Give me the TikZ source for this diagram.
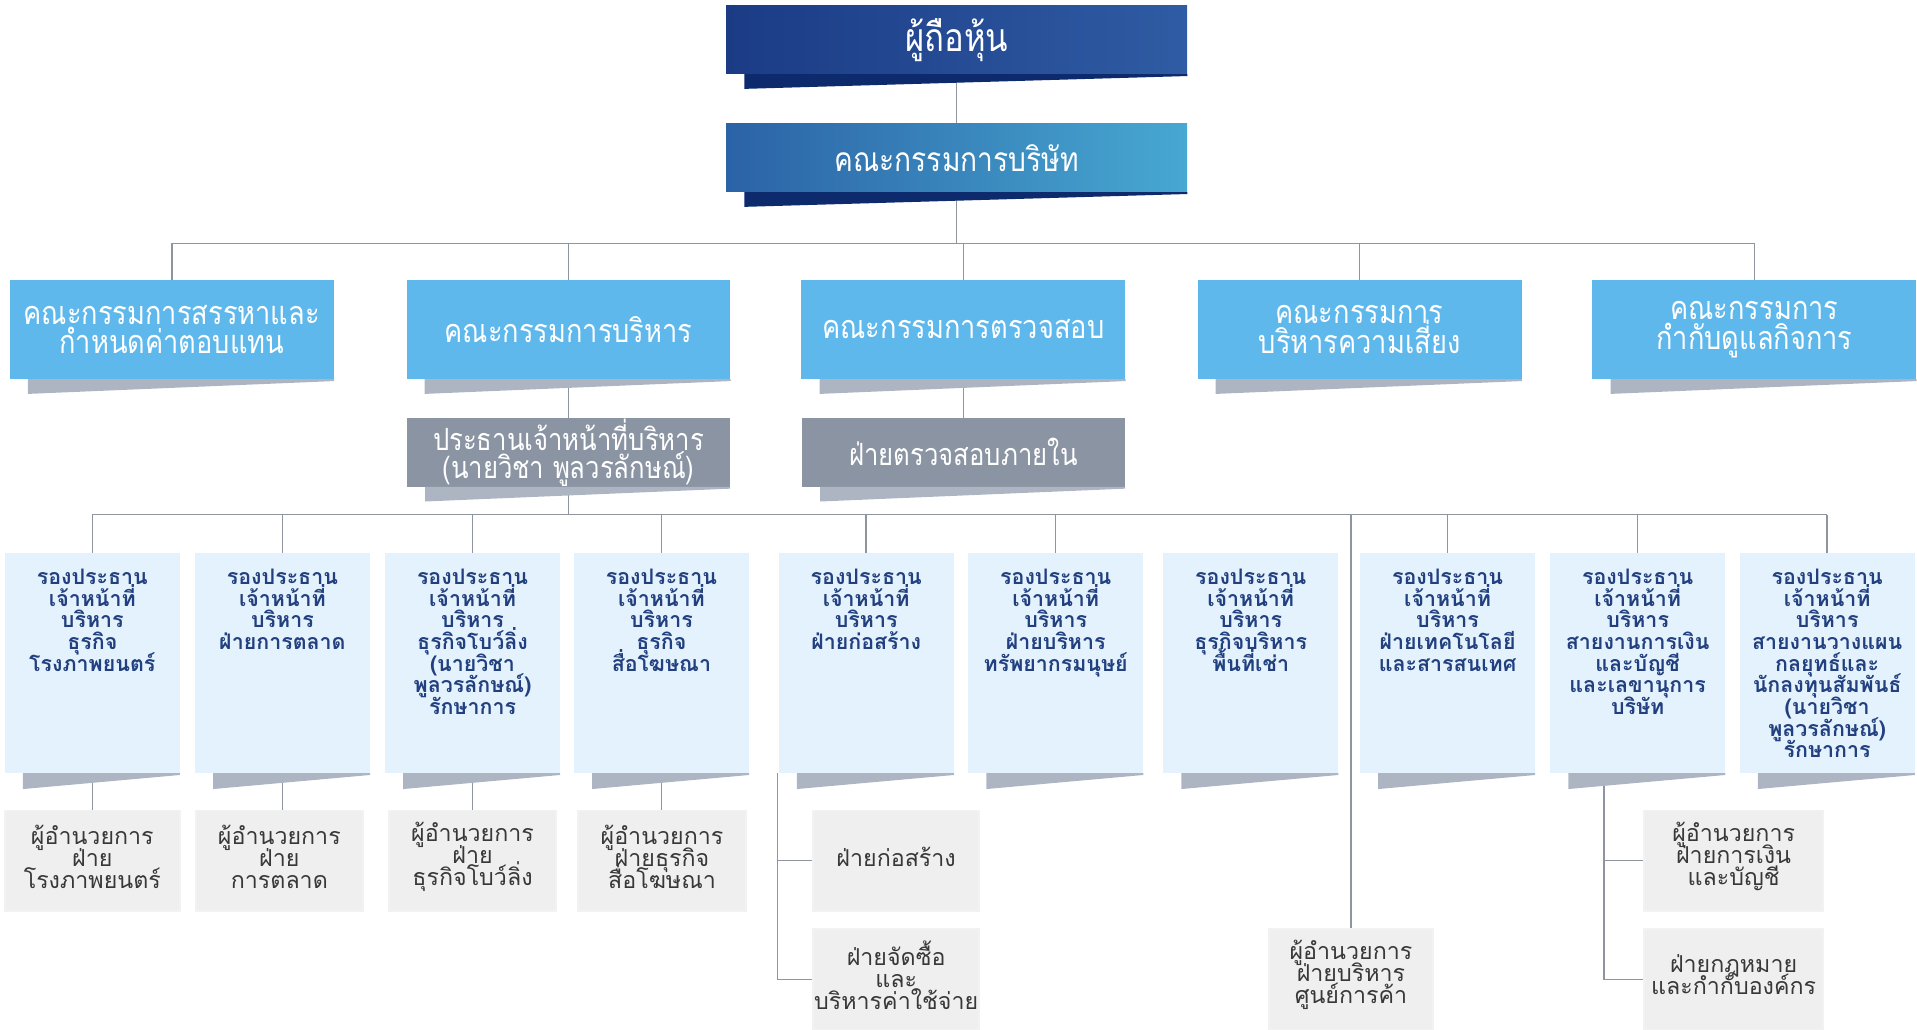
\documentclass[tikz,border=0pt]{standalone}
\usepackage{fontspec}
\usetikzlibrary{calc}
\newfontfamily\thai[Script=Thai, FakeStretch=0.84]{Loma}
\newfontfamily\thaiwide[Script=Thai]{Loma}

\definecolor{topL}{HTML}{1B3B85}
\definecolor{topR}{HTML}{2F5CA4}
\definecolor{boardL}{HTML}{2B63A6}
\definecolor{boardR}{HTML}{47A8D2}
\definecolor{navyshade}{HTML}{0C2A6C}
\definecolor{comfill}{HTML}{5FB8EC}
\definecolor{greyfill}{HTML}{8A94A3}
\definecolor{vpfill}{HTML}{E3F2FC}
\definecolor{vptext}{HTML}{22407F}
\definecolor{dirfill}{HTML}{EFEFEF}
\definecolor{dirtext}{HTML}{383838}
\definecolor{shgrey}{HTML}{ADB5C3}
\definecolor{wire}{HTML}{8E959F}

\pgfdeclarelayer{wires}
\pgfsetlayers{wires,main}

% Thai text at a given size with a fixed line pitch
\newcommand\fixpitch{\lineskiplimit=-100pt\lineskip=0pt\relax}
\newcommand\thaisize[2]{\thai\fontsize{#1}{#2}\selectfont\fixpitch}
\newcommand\widesize[2]{\thaiwide\fontsize{#1}{#2}\selectfont\fixpitch}

% slanted drop shadow under the lower edge of a box
\newcommand\castshadow[3]{%
  \fill[#2] ($(#1.south west)+(15,0)$) -- (#1.south east) --
    ($(#1.south east)+(0,1.5)$) -- ($(#1.south west)+(15,#3)$) -- cycle;}

% top-aligned text block for the tall vice-president boxes
\newcommand\vptext[1]{\parbox[t][180pt][t]{143pt}{\fixpitch\centering\rule{0pt}{26pt}#1}}
% centred text block of a given width for the small boxes, set slightly high
\newcommand\dtext[2]{\parbox{#1pt}{\fixpitch\centering #2\par\vspace{7pt}}}

\begin{document}
\begin{tikzpicture}[x=1pt,y=-1pt,
  topbox/.style={inner sep=0pt, minimum width=377, minimum height=56,
    text=white, align=center},
  combox/.style={fill=comfill, inner sep=0pt, minimum width=265, minimum height=81,
    text=white, align=center, font=\thaisize{26.5}{24}},
  greybox/.style={fill=greyfill, inner sep=0pt, minimum width=264, minimum height=56,
    text=white, align=center, font=\thaisize{25}{23}},
  vpbox/.style={fill=vpfill, inner sep=0pt, text=vptext,
    font=\widesize{17.5}{17.7}\bfseries},
  dirbox/.style={fill=dirfill, draw=black!5, line width=1.5pt, inner sep=0pt,
    minimum height=82, text=dirtext, font=\widesize{19}{18}},
  wireline/.style={draw=wire, line width=1.2pt}]

\useasboundingbox (0,0) rectangle (1568,842);

% ---- top of the chart
\node[topbox, left color=topL, right color=topR,
  font=\thaisize{32}{34}] (share) at (782.5,32.5) {ผู้ถือหุ้น};
\node[topbox, left color=boardL, right color=boardR,
  font=\thaisize{27.4}{30}] (board) at (782.5,129) {คณะกรรมการบริษัท};

% ---- board committees
\node[combox] (c1) at (140.5,269.5) {คณะกรรมการสรรหาและ\\กำหนดค่าตอบแทน};
\node[combox] (c2) at (465,269.5) {คณะกรรมการบริหาร};
\node[combox] (c3) at (788,269.5) {คณะกรรมการตรวจสอบ};
\node[combox] (c4) at (1112,269.5) {คณะกรรมการ\\บริหารความเสี่ยง};
\node[combox] (c5) at (1435,269.5) {คณะกรรมการ\\กำกับดูแลกิจการ};

% ---- executive level
\node[greybox] (ceo) at (465,370) {ประธานเจ้าหน้าที่บริหาร\\(นายวิชา พูลวรลักษณ์)};
\node[greybox] (audit) at (788,370) {ฝ่ายตรวจสอบภายใน};

% ---- vice presidents
\foreach \n/\x/\t in {
  v1/75.5/{รองประธาน\\เจ้าหน้าที่\\บริหาร\\ธุรกิจ\\โรงภาพยนตร์},
  v2/231/{รองประธาน\\เจ้าหน้าที่\\บริหาร\\ฝ่ายการตลาด},
  v3/386.5/{รองประธาน\\เจ้าหน้าที่\\บริหาร\\ธุรกิจโบว์ลิ่ง\\(นายวิชา\\พูลวรลักษณ์)\\รักษาการ},
  v4/541/{รองประธาน\\เจ้าหน้าที่\\บริหาร\\ธุรกิจ\\สื่อโฆษณา},
  v5/708.5/{รองประธาน\\เจ้าหน้าที่\\บริหาร\\ฝ่ายก่อสร้าง},
  v6/863.5/{รองประธาน\\เจ้าหน้าที่\\บริหาร\\ฝ่ายบริหาร\\ทรัพยากรมนุษย์},
  v7/1023/{รองประธาน\\เจ้าหน้าที่\\บริหาร\\ธุรกิจบริหาร\\พื้นที่เช่า},
  v8/1184/{รองประธาน\\เจ้าหน้าที่\\บริหาร\\ฝ่ายเทคโนโลยี\\และสารสนเทศ},
  v9/1339.5/{รองประธาน\\เจ้าหน้าที่\\บริหาร\\สายงานการเงิน\\และบัญชี\\และเลขานุการ\\บริษัท},
  v10/1494.5/{รองประธาน\\เจ้าหน้าที่\\บริหาร\\สายงานวางแผน\\กลยุทธ์และ\\นักลงทุนสัมพันธ์\\(นายวิชา\\พูลวรลักษณ์)\\รักษาการ}}
  \node[vpbox, anchor=north] (\n) at (\x,452) {\vptext{\t}};

% ---- directors and departments
\node[dirbox] (d1) at (75.5,704) {\dtext{143}{ผู้อำนวยการ\\ฝ่าย\\โรงภาพยนตร์}};
\node[dirbox] (d2) at (228.5,704) {\dtext{137}{ผู้อำนวยการ\\ฝ่าย\\การตลาด}};
\node[dirbox] (d3) at (386.5,704) {\dtext{137}{ผู้อำนวยการ\\ฝ่าย\\ธุรกิจโบว์ลิ่ง}};
\node[dirbox] (d4) at (541.5,704) {\dtext{137}{ผู้อำนวยการ\\ฝ่ายธุรกิจ\\สื่อโฆษณา}};
\node[dirbox] (e1) at (733,704) {\dtext{136}{ฝ่ายก่อสร้าง}};
\node[dirbox] (e2) at (733,801) {\dtext{136}{ฝ่ายจัดซื้อ\\และ\\บริหารค่าใช้จ่าย}};
\node[dirbox] (s1) at (1105,801) {\dtext{134}{ผู้อำนวยการ\\ฝ่ายบริหาร\\ศูนย์การค้า}};
\node[dirbox] (f1) at (1418,704) {\dtext{146}{ผู้อำนวยการ\\ฝ่ายการเงิน\\และบัญชี}};
\node[dirbox] (f2) at (1418,801) {\dtext{146}{ฝ่ายกฎหมาย\\และกำกับองค์กร}};

% ---- shadows
\castshadow{share}{navyshade}{12}
\castshadow{board}{navyshade}{12}
\foreach \n in {c1,c2,c3,c4,c5} {\castshadow{\n}{shgrey}{12}}
\foreach \n in {ceo,audit} {\castshadow{\n}{shgrey}{12}}
\foreach \n in {v1,v2,v3,v4,v5,v6,v7,v8,v9,v10} {\castshadow{\n}{shgrey}{13}}

% ---- connectors
\coordinate (busA) at (0,199);
\coordinate (busB) at (0,421);
\coordinate (bld) at ($(v5.south west)+(-1,0)$);
\coordinate (fin) at ($(v9.south west)+(44,0)$);
\begin{pgfonlayer}{wires}
  \draw[wireline] (share.south) -- (board.north);
  \draw[wireline] (board.south) -- (board.south |- busA);
  \draw[wireline] (c1.north |- busA) -- (c5.north |- busA);
  \foreach \n in {c1,c2,c3,c4,c5} {\draw[wireline] (\n.north |- busA) -- (\n.north);}
  \draw[wireline] (c2.south) -- (ceo.north);
  \draw[wireline] (c3.south) -- (audit.north);
  \draw[wireline] (ceo.south) -- (ceo.south |- busB);
  \draw[wireline] (v1.north |- busB) -- (v10.north |- busB);
  \foreach \n in {v1,v2,v3,v4,v5,v6,v8,v9,v10} {\draw[wireline] (\n.north |- busB) -- (\n.north);}
  \draw[wireline] (s1.north |- busB) -- (s1.north);
  \draw[wireline] (v1.south) -- (d1.north);
  \draw[wireline] (v2.south) -- (v2.south |- d2.north);
  \draw[wireline] (v3.south) -- (d3.north);
  \draw[wireline] (v4.south) -- (v4.south |- d4.north);
  \draw[wireline] (bld) -- (bld |- e2.west) -- (e2.west);
  \draw[wireline] (bld |- e1.west) -- (e1.west);
  \draw[wireline] (fin) -- (fin |- f2.west) -- (f2.west);
  \draw[wireline] (fin |- f1.west) -- (f1.west);
\end{pgfonlayer}
\end{tikzpicture}
\end{document}
